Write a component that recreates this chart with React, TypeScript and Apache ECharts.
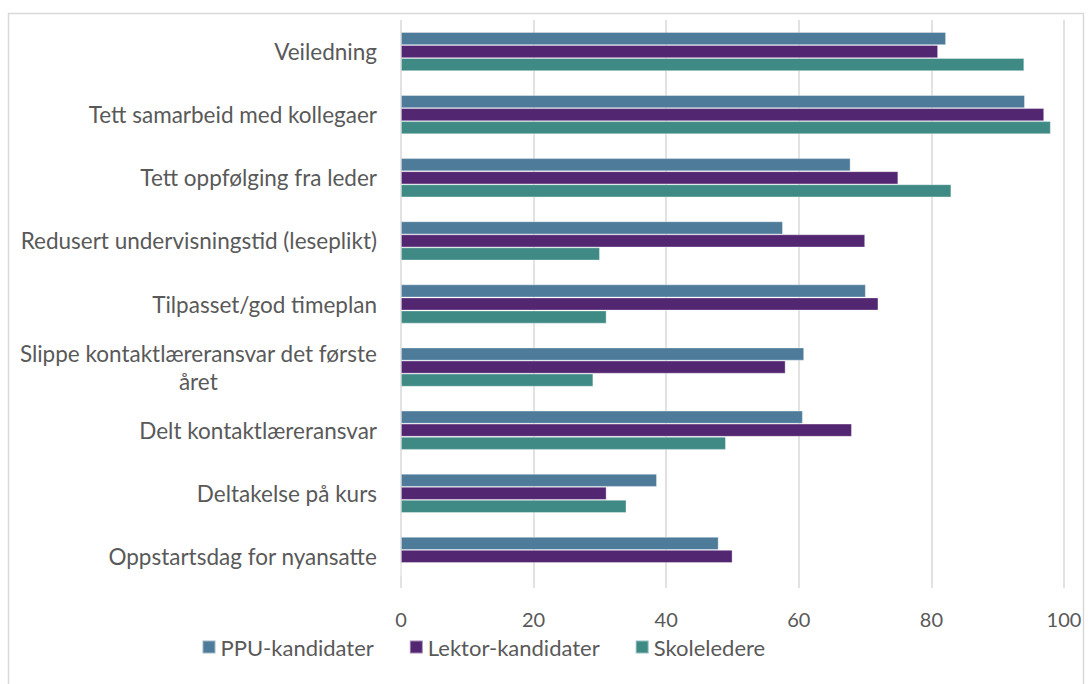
import React, { useEffect, useRef } from "react";
import * as echarts from "echarts";

const categories = [
  "Veiledning",
  "Tett samarbeid med kollegaer",
  "Tett oppfølging fra leder",
  "Redusert undervisningstid (leseplikt)",
  "Tilpasset/god timeplan",
  "Slippe kontaktlæreransvar det første\nåret",
  "Delt kontaktlæreransvar",
  "Deltakelse på kurs",
  "Oppstartsdag for nyansatte",
];

const seriesNames = ["PPU-kandidater", "Lektor-kandidater", "Skoleledere"];
const ppu = [82.2, 94.1, 67.8, 57.6, 70.1, 60.8, 60.6, 38.6, 47.9];
const lektor = [81, 97, 75, 70, 72, 58, 68, 31, 50];
const skole = [94, 98, 83, 30, 31, 29, 49, 34, 0];
const xTicks = [0, 20, 40, 60, 80, 100];

const colors = ["#4e7b9a", "#532671", "#3f8a85"];

export default function App() {
  const ref = useRef<HTMLDivElement>(null);
  useEffect(() => {
    if (!ref.current) return;
    const chart = echarts.init(ref.current, null, { renderer: "svg" });
    const font = "Lato, 'Open Sans', sans-serif";
    const data = [ppu, lektor, skole];
    chart.setOption({
      animation: false,
      textStyle: { fontFamily: font },
      graphic: [
        {
          type: "rect",
          shape: { x: 8.5, y: 13.5, width: 1075, height: 690 },
          style: { fill: "none", stroke: "#d9d9d9", lineWidth: 1.5 },
          silent: true,
        },
      ],
      grid: { left: 401, right: 28, top: 20, bottom: 96, containLabel: false },
      legend: {
        left: 196.5,
        top: 631,
        itemWidth: 13,
        itemHeight: 13,
        itemGap: 35,
        icon: "rect",
        textStyle: { fontSize: 22, color: "#595959", fontFamily: font },
        data: seriesNames,
      },
      xAxis: {
        type: "value",
        min: xTicks[0],
        max: xTicks[xTicks.length - 1],
        interval: 20,
        axisLine: { show: false },
        axisTick: { show: false },
        splitLine: { lineStyle: { color: "#d9d9d9", width: 1.5 } },
        axisLabel: {
          fontSize: 20,
          color: "#595959",
          margin: 21,
          fontFamily: font,
        },
      },
      yAxis: {
        type: "category",
        inverse: true,
        data: categories,
        axisLine: { show: false },
        axisTick: { show: false },
        axisLabel: {
          fontSize: 22.5,
          color: "#595959",
          margin: 24,
          fontFamily: font,
          lineHeight: 28,
          formatter: (v: string) =>
            v
              .split("\n")
              .map((l) => `{c|${l}}`)
              .join("\n"),
          rich: {
            c: {
              fontSize: 22.5,
              color: "#595959",
              fontFamily: font,
              align: "center",
              lineHeight: 28,
            },
          },
        },
      },
      series: seriesNames.map((name, i) => ({
        name,
        type: "bar",
        data: data[i],
        barGap: "0%",
        barCategoryGap: "38%",
        itemStyle: {
          color: colors[i],
          borderColor: "rgba(255,255,255,0.45)",
          borderWidth: 0.8,
        },
      })),
    });
    return () => chart.dispose();
  }, []);
  return (
    <div
      ref={ref}
      style={{ position: "absolute", left: 0, top: 0, width: 1092, height: 684, background: "#fff" }}
    />
  );
}
